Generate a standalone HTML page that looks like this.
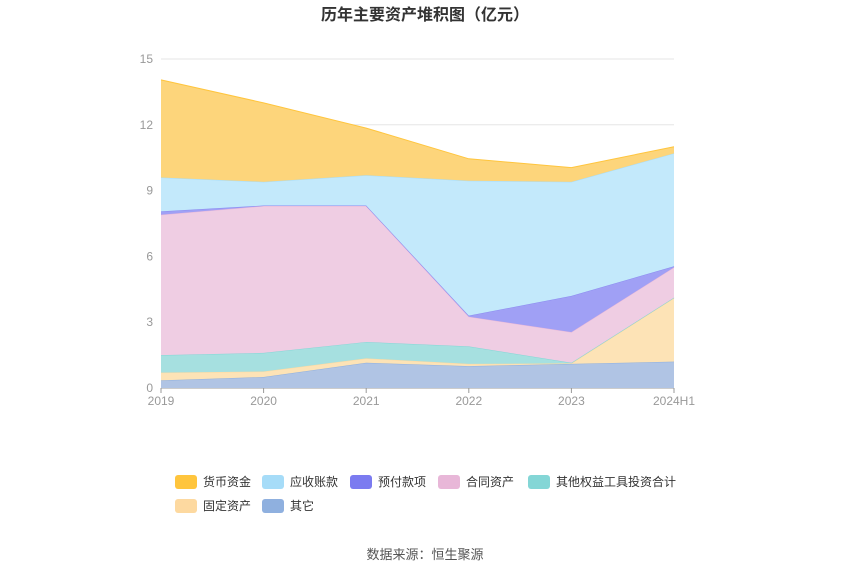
<!DOCTYPE html>
<html><head><meta charset="utf-8"><style>
body{margin:0;background:#fff;font-family:"Liberation Sans","Noto Sans CJK SC",sans-serif;}
#wrap{position:relative;width:850px;height:575px;overflow:hidden}
</style></head><body>
<div id="wrap">
<svg id="chart" width="850" height="575" xmlns="http://www.w3.org/2000/svg">
<text x="425" y="20" text-anchor="middle" font-size="16" font-weight="bold" fill="#333">历年主要资产堆积图（亿元）</text>
<g id="grid"></g><g id="areas"></g><g id="axes"></g><g id="legend"></g>
<text x="425" y="559" text-anchor="middle" font-size="13" fill="#555">数据来源：恒生聚源</text>
</svg>
</div>
<script>
const categories=["2019","2020","2021","2022","2023","2024H1"];
const yTicks=[0,3,6,9,12,15];
const seriesNames=["其它","固定资产","其他权益工具投资合计","合同资产","预付款项","应收账款","货币资金"];
const sOther=[0.35,0.5,1.15,1.0,1.1,1.2];
const sFixed=[0.35,0.25,0.2,0.1,0.02,2.9];
const sEquity=[0.8,0.85,0.75,0.8,0.03,0.02];
const sContract=[6.4,6.7,6.2,1.35,1.4,1.38];
const sPrepay=[0.15,0.02,0.02,0.05,1.65,0.05];
const sRecv=[1.55,1.08,1.38,6.15,5.2,5.15];
const sCash=[4.45,3.6,2.15,1.0,0.65,0.3];
const seriesData=[sOther,sFixed,sEquity,sContract,sPrepay,sRecv,sCash];
const fills=["#b0c4e4","#fde3b6","#a6e0e0","#efcde3","#a0a0f5","#c3e9fb","#fdd57b"];
const strokes=["#8fb0df","#fdd9a0","#84d6d6","#e8b7d8","#8b8bf0","#a6dcf8","#ffc53d"];
const legendColors=["#ffc53d","#a6dcf8","#7b7bf0","#e8b7d8","#84d6d6","#fdd9a0","#8fb0df"];
const legendNames=["货币资金","应收账款","预付款项","合同资产","其他权益工具投资合计","固定资产","其它"];
const X0=161,X1=674,Y0=388,Y1=59,YMAX=15;
const xs=i=>X0+(X1-X0)*i/(categories.length-1);
const ys=v=>Y0-(Y0-Y1)*v/YMAX;
const NS="http://www.w3.org/2000/svg";
function mk(t,a,p){const e=document.createElementNS(NS,t);for(const k in a)e.setAttribute(k,a[k]);p.appendChild(e);return e;}
const grid=document.getElementById('grid'),axes=document.getElementById('axes'),areas=document.getElementById('areas'),legend=document.getElementById('legend');
yTicks.forEach(t=>{
 const l=mk('line',{x1:X0,x2:X1,y1:ys(t),y2:ys(t),stroke:t===0?'#999':'#e6e6e6','stroke-width':1},grid);
 
 
 const tx=mk('text',{x:X0-8,y:ys(t)+4,'text-anchor':'end','font-size':12,fill:'#999'},axes);tx.textContent=t;
 
 
});
categories.forEach((c,i)=>{
 const tk=mk('line',{x1:xs(i),x2:xs(i),y1:Y0,y2:Y0+5,stroke:'#999'},axes);
 
 
 const tx=mk('text',{x:xs(i),y:Y0+17,'text-anchor':'middle','font-size':12,fill:'#999'},axes);tx.textContent=c;
 
 
});
let base=categories.map(()=>0);
seriesData.forEach((s,k)=>{
 const top=base.map((b,i)=>b+s[i]);
 let d='M'+top.map((v,i)=>xs(i)+','+ys(v)).join(' L');
 for(let i=categories.length-1;i>=0;i--)d+=' L'+xs(i)+','+ys(base[i]);
 d+='Z';
 const p=mk('path',{d:d,fill:fills[k],stroke:'none'},areas);
 
 
 const ln=mk('path',{d:'M'+top.map((v,i)=>xs(i)+','+ys(v)).join(' L'),fill:'none',stroke:strokes[k],'stroke-width':1},areas);
 
 
 base=top;
});
const lpos=[[175,482],[262,482],[350,482],[438,482],[528,482],[175,506],[262,506]];
legendNames.forEach((n,i)=>{
 const g=mk('g',{},legend);
 
 
 const [x,y]=lpos[i];
 mk('rect',{x:x,y:y-7,width:22,height:14,rx:3,fill:legendColors[i]},g);
 const t=mk('text',{x:x+28,y:y+4,'font-size':12,fill:'#333'},g);t.textContent=n;
});
</script>
</body></html>
